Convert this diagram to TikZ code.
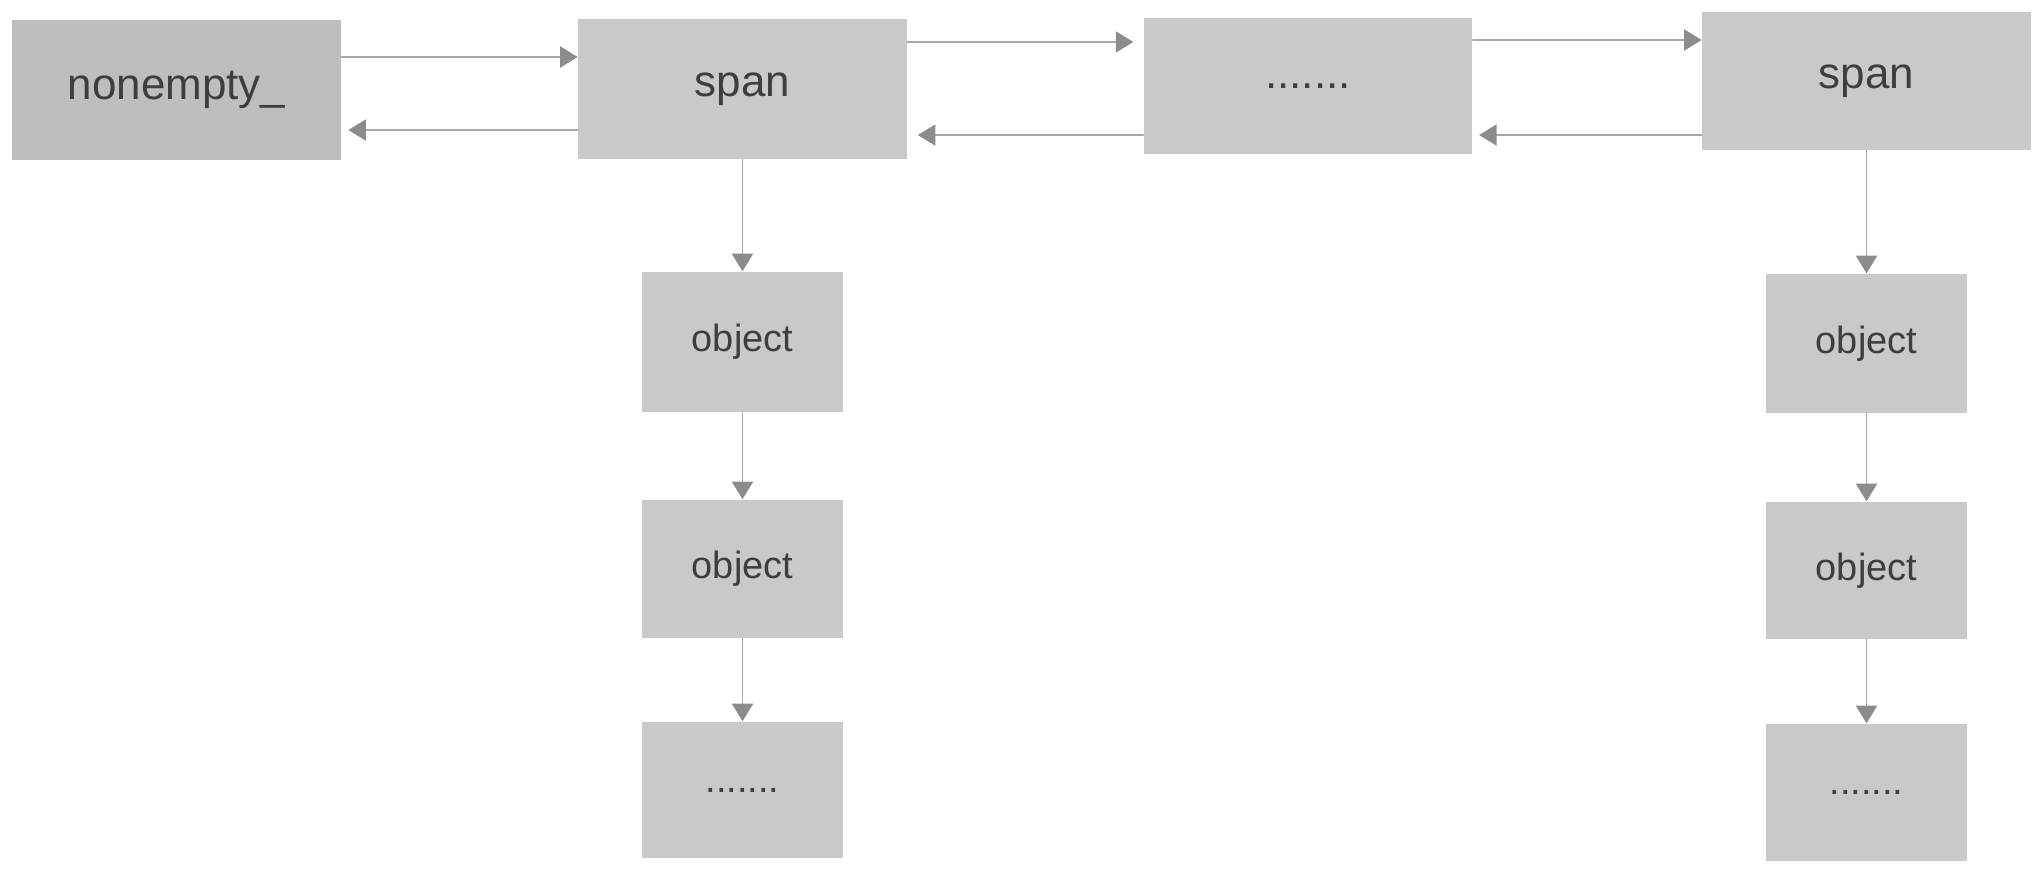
\documentclass[tikz,border=0pt]{standalone}
\usepackage{fontspec}
\setsansfont{Liberation Sans}
\usepackage{tikz}
\usetikzlibrary{arrows.meta}
\definecolor{boxgray}{RGB}{201,201,201}
\definecolor{headgray}{RGB}{190,190,190}
\definecolor{linkgray}{RGB}{168,168,168}
\definecolor{tipgray}{RGB}{140,140,140}
\definecolor{txtgray}{RGB}{62,62,62}

\begin{document}
\begin{tikzpicture}[line cap=round,line join=round,>={Triangle[length=5pt,width=6pt,color=tipgray]},x=0.01cm,y=-0.01cm,
    bigbox/.style={fill=boxgray,inner sep=0pt,minimum width=3.28cm,minimum height=1.38cm,text=txtgray,font=\sffamily\fontsize{12.5}{15}\selectfont},
    objbox/.style={fill=boxgray,inner sep=0pt,minimum width=2.01cm,minimum height=1.38cm,text=txtgray,font=\sffamily\fontsize{10.8}{13}\selectfont},
    link/.style={->,draw=linkgray,line width=0.5pt}]
        \useasboundingbox (0,0) rectangle (2040,872);
        % top row
        \node [bigbox,fill=headgray,minimum height=1.40cm] (nonempty) at (176.5,90) {nonempty\_};
        \node [bigbox,minimum height=1.40cm] (span1) at (742.5,89) {span};
        \node [bigbox,minimum height=1.36cm] (dots) at (1308,86) {.......};
        \node [bigbox] (span3) at (1866.5,81) {span};
        % left column
        \node [objbox,minimum height=1.40cm] (obj1) at (742.5,342) {object};
        \node [objbox] (obj2) at (742.5,569) {object};
        \node [objbox,minimum height=1.36cm] (more1) at (742.5,790) {.......};
        % right column
        \node [objbox,minimum height=1.39cm] (obj3) at (1866.5,343.5) {object};
        \node [objbox,minimum height=1.37cm] (obj4) at (1866.5,570.5) {object};
        \node [objbox,minimum height=1.37cm] (more2) at (1866.5,792.5) {.......};
        % links between the spans
        \draw [link] ([yshift=0.33cm]nonempty.east) -- ([yshift=0.32cm]span1.west);
        \draw [link,shorten >=2pt] ([yshift=-0.41cm]span1.west) -- ([yshift=-0.40cm]nonempty.east);
        \draw [link,shorten >=2.8pt] ([yshift=0.47cm]span1.east) -- ([yshift=0.44cm]dots.west);
        \draw [link,shorten >=3pt] ([yshift=-0.49cm]dots.west) -- ([yshift=-0.46cm]span1.east);
        \draw [link] ([yshift=0.46cm]dots.east) -- ([yshift=0.41cm]span3.west);
        \draw [link,shorten >=1.8pt] ([yshift=-0.54cm]span3.west) -- ([yshift=-0.49cm]dots.east);
        % links down to the objects
        \draw [link] (span1.south) -- (obj1.north);
        \draw [link] (obj1.south) -- (obj2.north);
        \draw [link] (obj2.south) -- (more1.north);
        \draw [link] (span3.south) -- (obj3.north);
        \draw [link] (obj3.south) -- (obj4.north);
        \draw [link] (obj4.south) -- (more2.north);
    \end{tikzpicture}
\end{document}
